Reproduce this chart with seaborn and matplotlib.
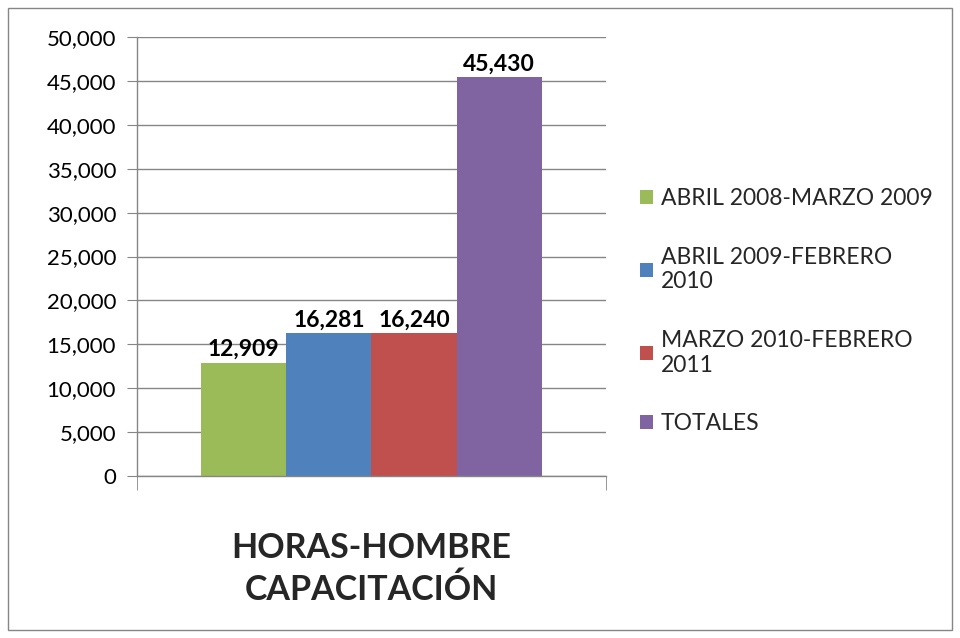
import matplotlib
matplotlib.use("Agg")
import matplotlib.pyplot as plt
import matplotlib.ticker as mticker
from matplotlib.patches import Rectangle
import pandas as pd
import seaborn as sns

# data
category = "HORAS-HOMBRE\nCAPACITACIÓN"
periods = ["ABRIL 2008-MARZO 2009", "ABRIL 2009-FEBRERO\n2010",
           "MARZO 2010-FEBRERO\n2011", "TOTALES"]
hours = [12909, 16281, 16240, 45430]
colors = ["#9BBB59", "#4F81BD", "#C0504D", "#8064A2"]

df = pd.DataFrame({"cat": [category] * len(periods), "period": periods, "hours": hours})

sns.set_style("white")
plt.rcParams["font.family"] = ["Lato", "DejaVu Sans"]

fig = plt.figure(figsize=(9.6, 6.38), dpi=100)
ax = fig.add_axes([0.1427, 0.2539, 0.4885, 0.688])

sns.barplot(data=df, x="cat", y="hours", hue="period", palette=colors,
            width=0.726, gap=0, saturation=1, dodge=True, ax=ax, legend=True,
            linewidth=0, edgecolor="none")

for cont in ax.containers:
    ax.bar_label(cont, labels=[f"{v:,.0f}" for v in cont.datavalues],
                 padding=2, fontsize=16.5, fontweight="bold", color="black")

ax.set_xlim(-0.5, 0.5)
ax.set_ylim(0, 50000)
ax.yaxis.set_major_locator(mticker.MultipleLocator(5000))
ax.yaxis.set_major_formatter(mticker.FuncFormatter(lambda v, p: f"{v:,.0f}"))
ax.grid(axis="y", color="#868686", lw=1)
ax.set_axisbelow(True)
ax.tick_params(axis="y", left=True, length=7, color="#868686", labelsize=16,
               pad=8, labelcolor="black")
ax.tick_params(axis="x", bottom=False, labelsize=24.5, pad=37)
for lbl in ax.get_xticklabels():
    lbl.set_fontweight("bold")
    lbl.set_linespacing(1.35)
ax.xaxis.set_minor_locator(mticker.FixedLocator([-0.5, 0.5]))
ax.tick_params(axis="x", which="minor", bottom=True, length=10, color="#868686")
ax.set_xlabel("")
ax.set_ylabel("")
for side in ["top", "right"]:
    ax.spines[side].set_visible(False)
for side in ["left", "bottom"]:
    ax.spines[side].set_color("#868686")
    ax.spines[side].set_linewidth(1)

handles, labels = ax.get_legend_handles_labels()
ax.legend_.remove()
leg = fig.legend(handles, labels, loc="center left", bbox_to_anchor=(0.667, 0.512),
                 frameon=False, fontsize=16.5, handlelength=0.55, handleheight=0.55,
                 handletextpad=0.35, labelspacing=1.65, borderpad=0, borderaxespad=0)
for t in leg.get_texts():
    t.set_linespacing(1.2)

fig.patches.append(Rectangle((8 / 960, 8 / 638), 944 / 960, 622 / 638,
                             transform=fig.transFigure, fill=False,
                             edgecolor="#868686", lw=1))

fig.savefig("out.png", dpi=100)
